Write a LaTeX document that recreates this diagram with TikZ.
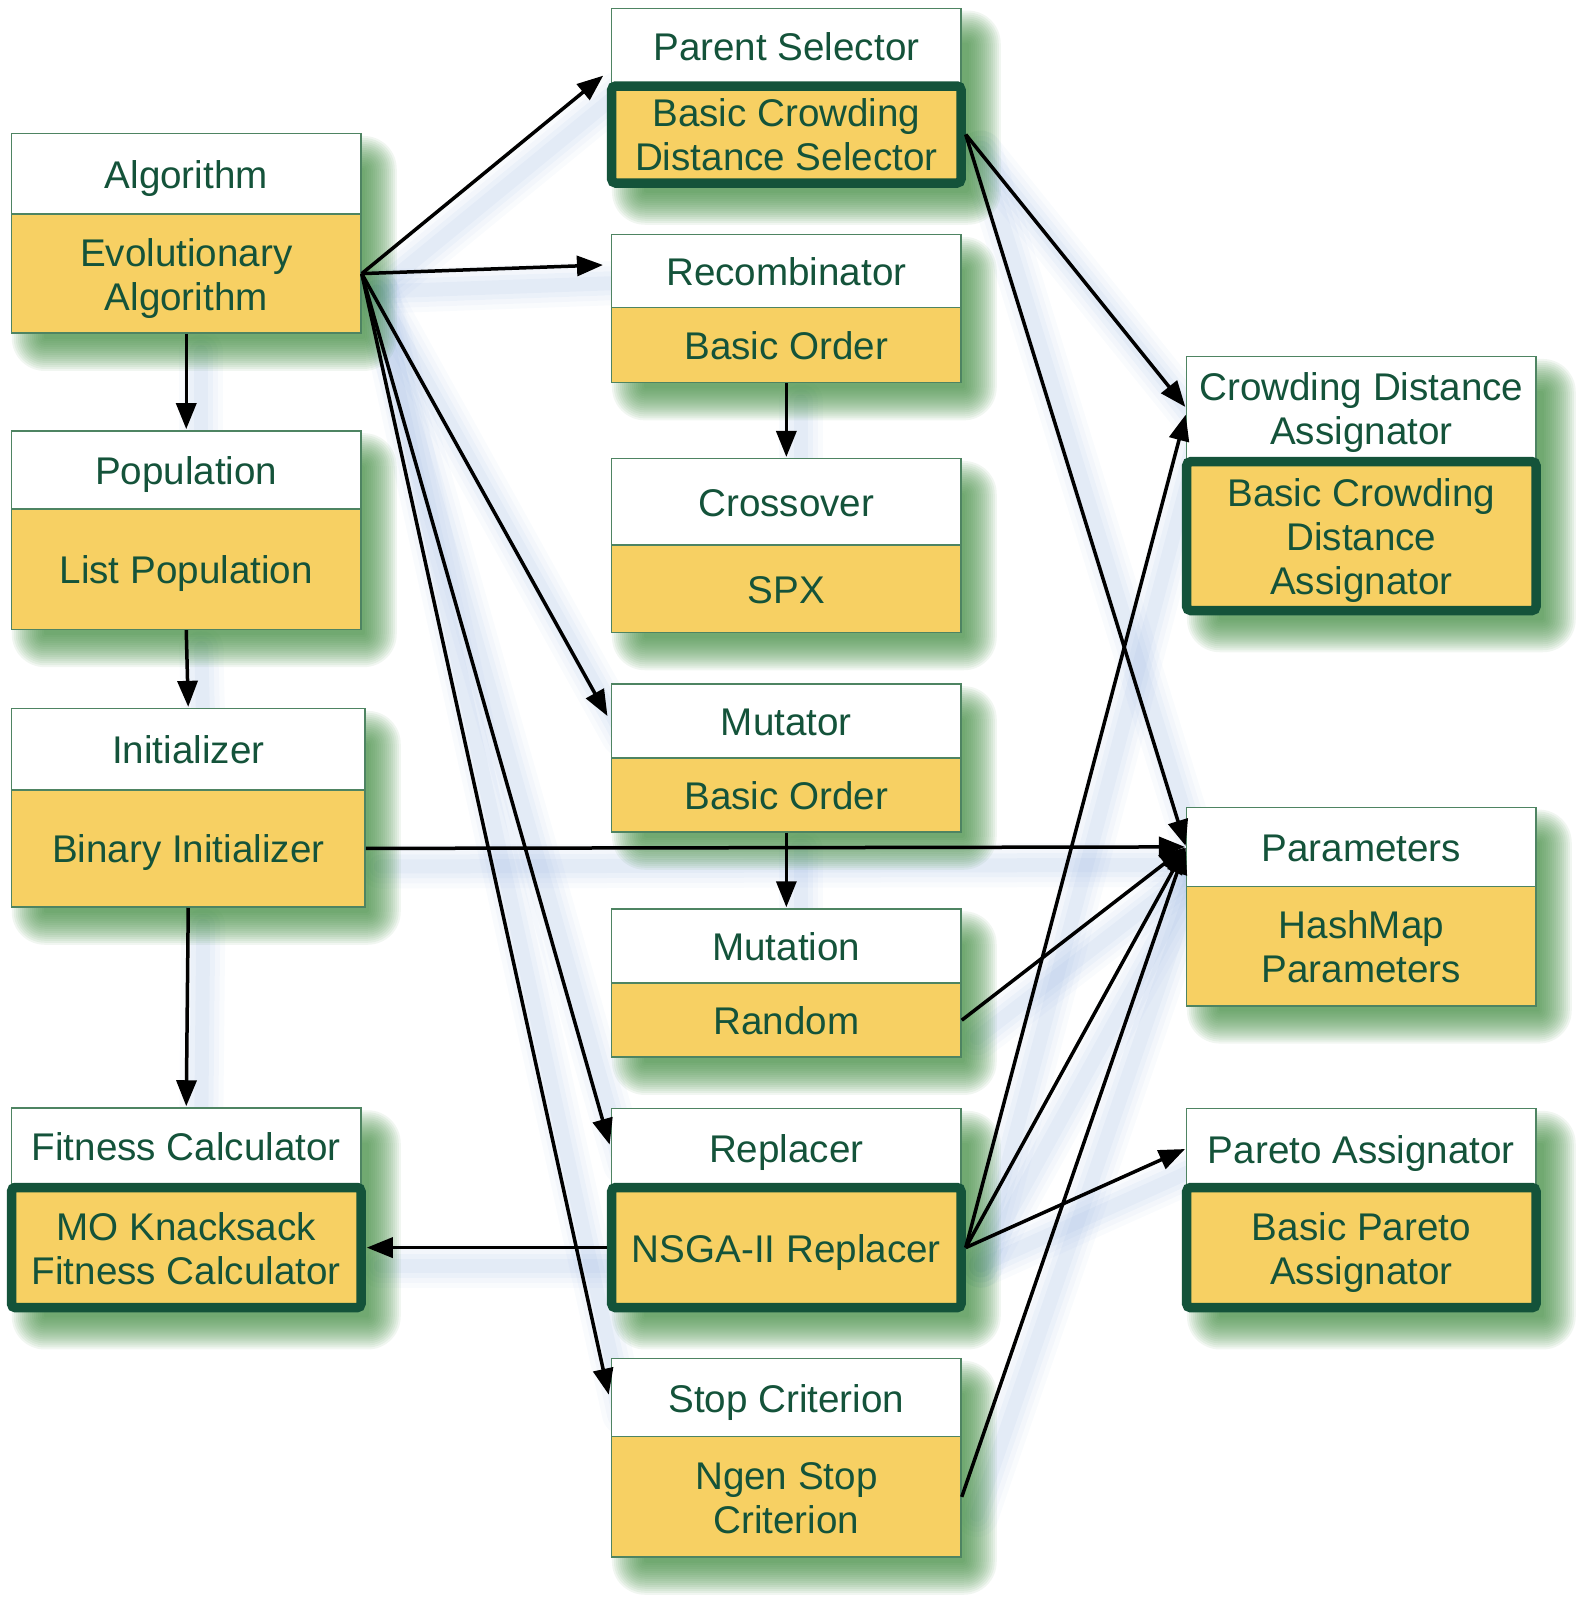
\documentclass[tikz,border=0pt]{standalone}
\usepackage{fontspec}
\setmainfont{Liberation Sans}
\usetikzlibrary{arrows.meta}
\definecolor{txt}{HTML}{14533A}
\definecolor{thin}{HTML}{4E8462}
\definecolor{yel}{HTML}{F7D063}
\definecolor{shg}{HTML}{3E8A3E}
\definecolor{shb}{HTML}{8FAEDD}
\pgfdeclarelayer{lineshadow}
\pgfdeclarelayer{boxshadow}
\pgfsetlayers{lineshadow,boxshadow,main}
\newcommand\tx[1]{\raisebox{-2.8pt}[\height][\depth]{\begin{tabular}{@{}c@{}}#1\end{tabular}}}
\tikzset{
  bw/.style={minimum width=#1*0.5pt},
  bh/.style={minimum height=#1*0.5pt},
  hdr/.style={draw=thin, line width=0.75pt, fill=white, text=txt,
    inner sep=0pt, font=\fontsize{19.3pt}{22pt}\selectfont},
  bdy/.style={hdr, fill=yel},
  bdythick/.style={bdy, draw=txt, line width=4.75pt, rounded corners=2pt},
  arr/.style={line width=1.75pt, -{Triangle[length=13pt,width=10pt]}, shorten >=0.5pt},
}
\newcommand\boxshadow[2]{%
  \begin{pgfonlayer}{boxshadow}
    \foreach \s in {-15,-13,...,17}{%
      \pgfmathsetmacro\rc{max(\s+16,2)*0.5}
      \fill[shg, opacity=0.075, rounded corners=\rc pt]
        ([shift={(18-\s,20-\s)}]#1.north west) rectangle ([shift={(18+\s,20+\s)}]#2.south east);
    }
  \end{pgfonlayer}}
\newcommand\conn[3][]{%
  \begin{pgfonlayer}{lineshadow}
    \foreach \w/\o in {44/0.05,34/0.06,24/0.08,14/0.09}{%
      \draw[shb, opacity=\o, line width=\w*0.5pt, line cap=round,
        transform canvas={shift={(15,18)}}] #2 -- #3;
    }
  \end{pgfonlayer}
  \draw[arr,#1] #2 -- #3;}
\begin{document}
\begin{tikzpicture}[x=0.5pt,y=-0.5pt]
\useasboundingbox (0,0) rectangle (1594,1613);
% left column
\node[hdr, bw=349.5, bh=80.3] (algH) at (186.25,173.85) {\tx{Algorithm}};
\node[bdy, bw=349.5, bh=119.2] (algB) at (186.25,273.6) {\tx{Evolutionary\\Algorithm}};
\node[hdr, bw=349.5, bh=78.1] (popH) at (186.25,469.95) {\tx{Population}};
\node[bdy, bw=349.5, bh=120.4] (popB) at (186.25,569.2) {\tx{List Population}};
\node[hdr, bw=353.5, bh=81.2] (iniH) at (188.25,749.2) {\tx{Initializer}};
\node[bdy, bw=353.5, bh=117.2] (iniB) at (188.25,848.4) {\tx{Binary Initializer}};
\node[hdr, bw=349.5, bh=76] (fitH) at (186.25,1146) {\tx{Fitness Calculator}};
\node[bdythick, bw=349.5, bh=120.2] (fitB) at (186.25,1247.6) {\tx{MO Knacksack\\Fitness Calculator}};
% middle column
\node[hdr, bw=349.3, bh=75] (psH) at (786.35,45.8) {\tx{Parent Selector}};
\node[bdythick, bw=349.3, bh=97] (psB) at (786.35,134.5) {\tx{Basic Crowding\\Distance Selector}};
\node[hdr, bw=349.3, bh=73] (rcH) at (786.35,271) {\tx{Recombinator}};
\node[bdy, bw=349.3, bh=75.1] (rcB) at (786.35,345.05) {\tx{Basic Order}};
\node[hdr, bw=349.3, bh=86.3] (crH) at (786.35,501.85) {\tx{Crossover}};
\node[bdy, bw=349.3, bh=87.5] (crB) at (786.35,588.75) {\tx{SPX}};
\node[hdr, bw=349.3, bh=74] (mtH) at (786.35,720.9) {\tx{Mutator}};
\node[bdy, bw=349.3, bh=74.1] (mtB) at (786.35,794.95) {\tx{Basic Order}};
\node[hdr, bw=349.3, bh=74.2] (muH) at (786.35,946.1) {\tx{Mutation}};
\node[bdy, bw=349.3, bh=74] (muB) at (786.35,1020.2) {\tx{Random}};
\node[hdr, bw=349.3, bh=78] (rpH) at (786.35,1147.6) {\tx{Replacer}};
\node[bdythick, bw=349.3, bh=120.2] (rpB) at (786.35,1247.6) {\tx{NSGA-II Replacer}};
\node[hdr, bw=349.3, bh=78.2] (stH) at (786.35,1397.6) {\tx{Stop Criterion}};
\node[bdy, bw=349.3, bh=120.3] (stB) at (786.35,1496.85) {\tx{Ngen Stop\\Criterion}};
% right column
\node[hdr, bw=349.3, bh=102] (cwH) at (1361.35,407.7) {\tx{Crowding Distance\\Assignator}};
\node[bdythick, bw=349.3, bh=148.8] (cwB) at (1361.35,536.1) {\tx{Basic Crowding\\Distance\\Assignator}};
\node[hdr, bw=349.3, bh=79.2] (paH) at (1361.35,846.9) {\tx{Parameters}};
\node[bdy, bw=349.3, bh=119.3] (paB) at (1361.35,946.15) {\tx{HashMap\\Parameters}};
\node[hdr, bw=349.3, bh=80] (prH) at (1361.35,1148.6) {\tx{Pareto Assignator}};
\node[bdythick, bw=349.3, bh=120.2] (prB) at (1361.35,1247.6) {\tx{Basic Pareto\\Assignator}};
% shadows
\boxshadow{algH}{algB}
\boxshadow{popH}{popB}
\boxshadow{iniH}{iniB}
\boxshadow{fitH}{fitB}
\boxshadow{psH}{psB}
\boxshadow{rcH}{rcB}
\boxshadow{crH}{crB}
\boxshadow{mtH}{mtB}
\boxshadow{muH}{muB}
\boxshadow{rpH}{rpB}
\boxshadow{stH}{stB}
\boxshadow{cwH}{cwB}
\boxshadow{paH}{paB}
\boxshadow{prH}{prB}
% connectors
\conn{(algB.east)}{([shift={(-7,-9)}]psH.south west)}
\conn[shorten >=0pt]{(algB.east)}{([shift={(-8,-6)}]rcH.west)}
\conn{(algB.east)}{([shift={(-3,-4)}]mtH.west)}
\conn{(algB.east)}{([shift={(-1,-2)}]rpH.west)}
\conn{(algB.east)}{([shift={(-2,-2)}]stH.west)}
\conn{(algB.south)}{(popH.north)}
\conn{(popB.south)}{(iniH.north)}
\conn{(iniB.south)}{(fitH.north)}
\conn{(iniB.east)}{(paH.west)}
\conn{(rcB.south)}{(crH.north)}
\conn{(mtB.south)}{(muH.north)}
\conn{(muB.east)}{(paH.west)}
\conn{(psB.east)}{(cwH.west)}
\conn{(psB.east)}{(paH.west)}
\conn{(rpB.east)}{([shift={(0,6)}]cwH.west)}
\conn{(rpB.east)}{(paH.west)}
\conn{(rpB.east)}{(prH.west)}
\conn{(rpB.west)}{(fitB.east)}
\conn{(stB.east)}{(paH.west)}
\end{tikzpicture}
\end{document}
